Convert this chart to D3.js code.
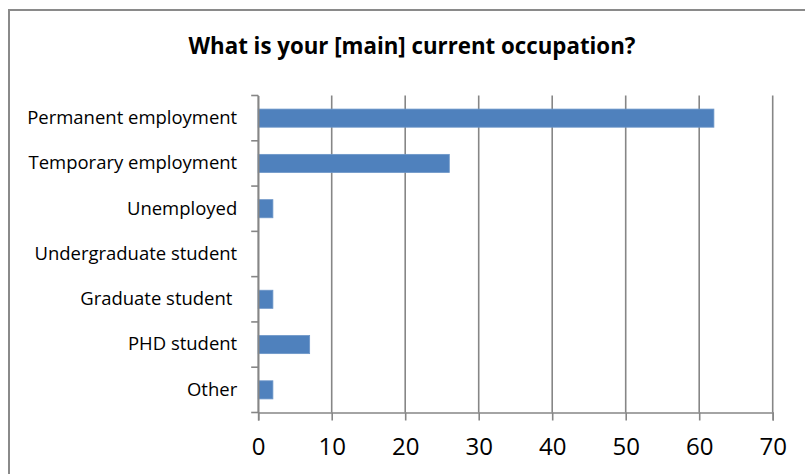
<!DOCTYPE html>
<html>
<head>
<meta charset="utf-8">
<script src="https://d3js.org/d3.v7.min.js"></script>
<style>
	body { margin: 0; background: #fff; }
	svg { display: block; font-family: "Open Sans", sans-serif; }
	.cat text { fill: #000; white-space: pre; }
	.xax text { fill: #000; }
	.title { font-weight: bold; }
</style>
</head>
<body>
<svg width="805" height="474"></svg>
<script>
	// data
	var categories = ["Permanent employment", "Temporary employment", "Unemployed",
		"Undergraduate student", "Graduate student ", "PHD student", "Other"];
	var values = [62, 26, 2, 0, 2, 7, 2];
	var xTicks = [0, 10, 20, 30, 40, 50, 60, 70];

	var svg = d3.select("svg");
	var grey = "#868686";

	// size a font so that a sample text gets the width seen in the reference
	function fitSize(txt, weight, target) {
		var t = svg.append("text").attr("font-size", 20).attr("font-weight", weight).text(txt);
		var w = t.node().getComputedTextLength();
		t.remove();
		return 20 * target / w;
	}
	var titleSize = fitSize("What is your [main] current occupation?", "bold", 447);
	var catSize = fitSize("Permanent employment", "normal", 210);
	var numSize = fitSize("70", "normal", 27.5);

	// outer frame (right and bottom edges fall outside the picture)
	svg.append("rect")
		.attr("x", 9).attr("y", 10)
		.attr("width", 900).attr("height", 600)
		.attr("fill", "none")
		.attr("stroke", "#8a8a8a")
		.attr("stroke-width", 2);

	svg.append("text")
		.attr("class", "title")
		.attr("x", 412).attr("y", 54)
		.attr("text-anchor", "middle")
		.attr("font-size", titleSize)
		.text("What is your [main] current occupation?");

	var x = d3.scaleLinear().domain([0, 70]).range([258.2, 772.7]);
	var y = d3.scaleBand().domain(categories).range([95.5, 412.5]);

	// vertical gridlines
	svg.append("g").selectAll("line")
		.data(xTicks)
		.join("line")
		.attr("x1", d => x(d)).attr("x2", d => x(d))
		.attr("y1", y.range()[0]).attr("y2", y.range()[1])
		.attr("stroke", grey).attr("stroke-width", 1.6);

	// bars
	var bh = y.bandwidth() * 0.4;
	svg.append("g").selectAll("rect")
		.data(values)
		.join("rect")
		.attr("x", x(0))
		.attr("y", (d, i) => y(categories[i]) + (y.bandwidth() - bh) / 2)
		.attr("width", d => x(d) - x(0))
		.attr("height", bh)
		.attr("fill", "#4f81bd")
		.attr("stroke", d => d > 0 ? "#6d96c8" : "none")
		.attr("stroke-width", 0.8);

	// category axis: labels at band centres, ticks on band boundaries
	var yAxis = d3.axisLeft(y).tickSize(0).tickPadding(21);
	var gy = svg.append("g").attr("class", "cat")
		.attr("transform", "translate(" + x(0) + ",0)")
		.call(yAxis)
		.attr("font-family", null)
		.attr("font-size", catSize);
	gy.select(".domain").attr("stroke", grey).attr("stroke-width", 1.6);
	gy.selectAll(".bnd")
		.data(categories.map(c => y(c)).concat([y.range()[1]]))
		.join("line")
		.attr("class", "bnd")
		.attr("x1", -7).attr("x2", 0)
		.attr("y1", d => d).attr("y2", d => d)
		.attr("stroke", grey).attr("stroke-width", 1.6);

	// value axis
	var xAxis = d3.axisBottom(x).tickValues(xTicks).tickSize(8).tickPadding(17);
	var gx = svg.append("g").attr("class", "xax")
		.attr("transform", "translate(0," + y.range()[1] + ")")
		.call(xAxis)
		.attr("font-family", null)
		.attr("font-size", numSize);
	gx.select(".domain").attr("stroke", grey).attr("stroke-width", 1.6);
	gx.selectAll(".tick line").attr("stroke", grey).attr("stroke-width", 1.6);
</script>
</body>
</html>
